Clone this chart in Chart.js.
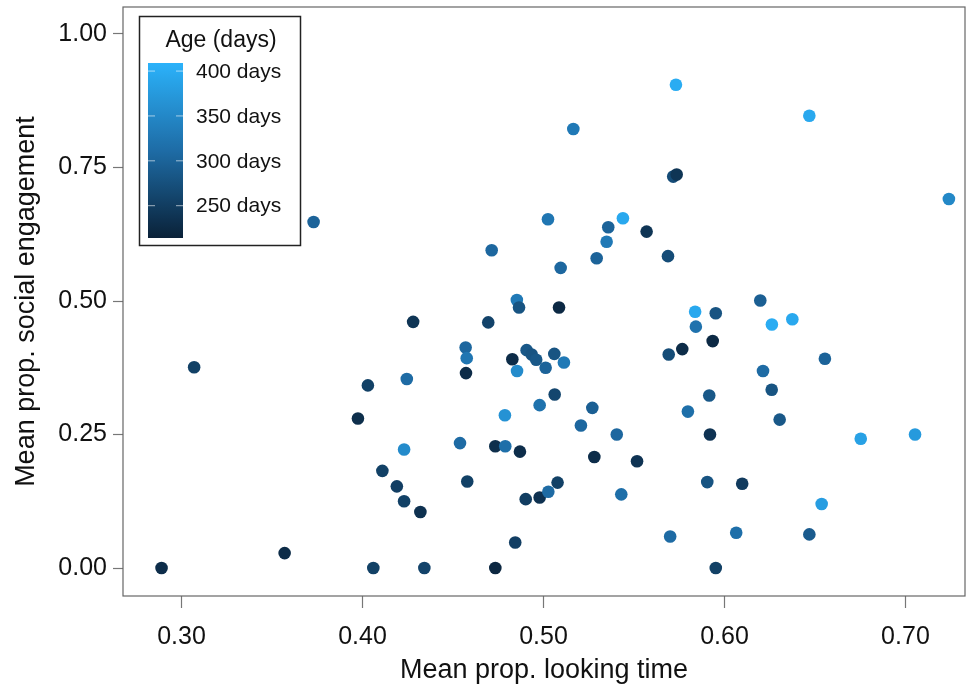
<!DOCTYPE html>
<html>
<head>
<meta charset="utf-8">
<script src="https://cdn.jsdelivr.net/npm/chart.js@4.4.1/dist/chart.umd.min.js"></script>
<style>
  html, body { margin: 0; padding: 0; background: #fff; }
  #wrap { width: 976px; height: 690px; }
</style>
</head>
<body>
<div id="wrap"><canvas id="chart"></canvas></div>
<script>
// values
const lookTime = [
  0.289, 0.307, 0.357, 0.373, 0.3975, 0.403, 0.406, 0.411, 0.419, 0.423,
  0.423, 0.4245, 0.428, 0.432, 0.4342, 0.4539, 0.457, 0.4576, 0.4572, 0.4579,
  0.4695, 0.4714, 0.4734, 0.4734, 0.4787, 0.4789, 0.4828, 0.4844, 0.4853, 0.4854,
  0.4865, 0.487, 0.4902, 0.4907, 0.4935, 0.496, 0.4979, 0.4979, 0.5012, 0.5025,
  0.5027, 0.5062, 0.506, 0.5078, 0.5086, 0.5095, 0.5113, 0.5165, 0.5207, 0.527,
  0.5281, 0.5294, 0.5349, 0.5358, 0.5405, 0.543, 0.5439, 0.5517, 0.557, 0.5688,
  0.5692, 0.570, 0.5717, 0.5736, 0.5732, 0.5767, 0.5798, 0.5838, 0.5842, 0.5905,
  0.5916, 0.592, 0.5935, 0.5952, 0.5952, 0.6065, 0.6098, 0.6198, 0.6213, 0.6261,
  0.6262, 0.6305, 0.6375, 0.6469, 0.6469, 0.6537, 0.6555, 0.6753, 0.7053, 0.724
];
const engagement = [
  0.000, 0.376, 0.028, 0.648, 0.280, 0.342, 0.000, 0.182, 0.153, 0.125,
  0.222, 0.354, 0.461, 0.105, 0.000, 0.234, 0.413, 0.393, 0.365, 0.162,
  0.460, 0.595, 0.228, 0.000, 0.286, 0.228, 0.391, 0.048, 0.502, 0.369,
  0.488, 0.218, 0.129, 0.408, 0.400, 0.390, 0.305, 0.132, 0.375, 0.653,
  0.143, 0.325, 0.401, 0.160, 0.488, 0.562, 0.385, 0.822, 0.267, 0.300,
  0.208, 0.580, 0.611, 0.638, 0.250, 0.138, 0.655, 0.200, 0.630, 0.584,
  0.400, 0.059, 0.733, 0.737, 0.905, 0.410, 0.293, 0.480, 0.452, 0.161,
  0.323, 0.250, 0.425, 0.477, 0.000, 0.066, 0.158, 0.501, 0.369, 0.334,
  0.456, 0.278, 0.466, 0.847, 0.063, 0.120, 0.392, 0.242, 0.250, 0.691
];
const ageDays = [
  230, 255, 228, 300, 232, 255, 255, 255, 252, 255,
  355, 310, 240, 235, 258, 310, 305, 325, 228, 255,
  258, 305, 232, 222, 365, 315, 228, 252, 330, 355,
  280, 230, 250, 285, 280, 285, 320, 235, 300, 325,
  310, 262, 280, 255, 225, 305, 330, 330, 305, 295,
  230, 300, 330, 300, 305, 315, 395, 238, 240, 270,
  270, 310, 270, 240, 400, 228, 315, 395, 320, 280,
  285, 238, 225, 280, 255, 315, 248, 295, 310, 280,
  400, 285, 395, 395, 290, 380, 300, 385, 375, 350
];
const xTicks = [0.30, 0.40, 0.50, 0.60, 0.70];
const yTicks = [0.00, 0.25, 0.50, 0.75, 1.00];
const legendAges = [400, 350, 300, 250];
const ageMin = 214, ageMax = 409;

const FONT = "'Liberation Sans', Arial, Helvetica, sans-serif";
Chart.defaults.font.family = FONT;

// dark navy -> mid blue -> bright sky blue
const colorStops = [[10, 33, 56], [30, 108, 166], [43, 178, 250]];
function ageColor(a) {
  const t = Math.max(0, Math.min(1, (a - ageMin) / (ageMax - ageMin)));
  const seg = t < 0.5 ? 0 : 1;
  const u = t < 0.5 ? t / 0.5 : (t - 0.5) / 0.5;
  const lo = colorStops[seg], hi = colorStops[seg + 1];
  const c = lo.map((v, i) => Math.round(v + (hi[i] - v) * u));
  return 'rgb(' + c.join(',') + ')';
}

const points = lookTime.map((x, i) => ({ x: x, y: engagement[i] }));

// frame around the plotting region
const plotBox = {
  id: 'plotBox',
  afterDraw(chart) {
    const { ctx, chartArea: a } = chart;
    ctx.save();
    ctx.strokeStyle = '#666';
    ctx.lineWidth = 1.2;
    ctx.strokeRect(a.left, a.top, a.right - a.left, a.bottom - a.top);
    ctx.restore();
  }
};

// colour bar legend, top-left inside the panel
const ageLegend = {
  id: 'ageLegend',
  afterDraw(chart) {
    const ctx = chart.ctx;
    const bx = 139.5, by = 16.5, bw = 161, bh = 229;
    const barX = 148, barY = 63, barW = 35, barH = 175;
    ctx.save();
    ctx.fillStyle = '#fff';
    ctx.fillRect(bx, by, bw, bh);
    ctx.strokeStyle = '#222';
    ctx.lineWidth = 1.5;
    ctx.strokeRect(bx, by, bw, bh);

    const grad = ctx.createLinearGradient(0, barY, 0, barY + barH);
    for (let k = 0; k <= 20; k++) {
      grad.addColorStop(k / 20, ageColor(ageMax - (ageMax - ageMin) * k / 20));
    }
    ctx.fillStyle = grad;
    ctx.fillRect(barX, barY, barW, barH);

    ctx.fillStyle = '#111';
    ctx.font = '23px ' + FONT;
    ctx.textAlign = 'center';
    ctx.textBaseline = 'middle';
    ctx.fillText('Age (days)', 221, 41);

    ctx.font = '21px ' + FONT;
    ctx.textAlign = 'left';
    legendAges.forEach(a => {
      const y = barY + (ageMax - a) / (ageMax - ageMin) * barH;
      ctx.strokeStyle = 'rgba(255,255,255,0.6)';
      ctx.lineWidth = 1;
      ctx.beginPath();
      ctx.moveTo(barX, y); ctx.lineTo(barX + 7, y);
      ctx.moveTo(barX + barW - 7, y); ctx.lineTo(barX + barW, y);
      ctx.stroke();
      ctx.fillStyle = '#111';
      ctx.fillText(a + ' days', 196, y + 1);
    });
    ctx.restore();
  }
};

new Chart(document.getElementById('chart'), {
  type: 'scatter',
  data: {
    datasets: [{
      data: points,
      backgroundColor: c => ageColor(ageDays[c.dataIndex]),
      borderWidth: 0,
      pointRadius: 6.3,
      pointHoverRadius: 6.3
    }]
  },
  options: {
    responsive: true,
    maintainAspectRatio: false,
    animation: false,
    layout: { padding: { left: 0, top: 7, right: 11, bottom: 0 } },
    plugins: { legend: { display: false }, tooltip: { enabled: false } },
    scales: {
      x: {
        type: 'linear',
        min: 0.2677,
        max: 0.7329,
        afterBuildTicks: s => { s.ticks = xTicks.map(v => ({ value: v })); },
        afterFit: s => { s.height = 94; s.paddingLeft = 0; s.paddingRight = 0; },
        ticks: {
          callback: v => Number(v).toFixed(2),
          font: { size: 25 },
          color: '#111',
          padding: 14,
          maxRotation: 0,
          autoSkip: false
        },
        grid: { drawOnChartArea: false, tickLength: 12, color: '#777', tickWidth: 1.2 },
        border: { display: false },
        title: {
          display: true,
          text: 'Mean prop. looking time',
          font: { size: 27 },
          color: '#111',
          padding: { top: 0, bottom: 3 }
        }
      },
      y: {
        type: 'linear',
        min: -0.0523,
        max: 1.0505,
        afterBuildTicks: s => { s.ticks = yTicks.map(v => ({ value: v })); },
        afterFit: s => { s.width = 123; s.paddingTop = 0; s.paddingBottom = 0; },
        ticks: {
          callback: v => Number(v).toFixed(2),
          font: { size: 25 },
          color: '#111',
          padding: 6
        },
        grid: { drawOnChartArea: false, tickLength: 10, color: '#777', tickWidth: 1.2 },
        border: { display: false },
        title: {
          display: true,
          text: 'Mean prop. social engagement',
          font: { size: 27 },
          color: '#111',
          padding: { top: 10, bottom: 0 }
        }
      }
    }
  },
  plugins: [plotBox, ageLegend]
});
</script>
</body>
</html>
